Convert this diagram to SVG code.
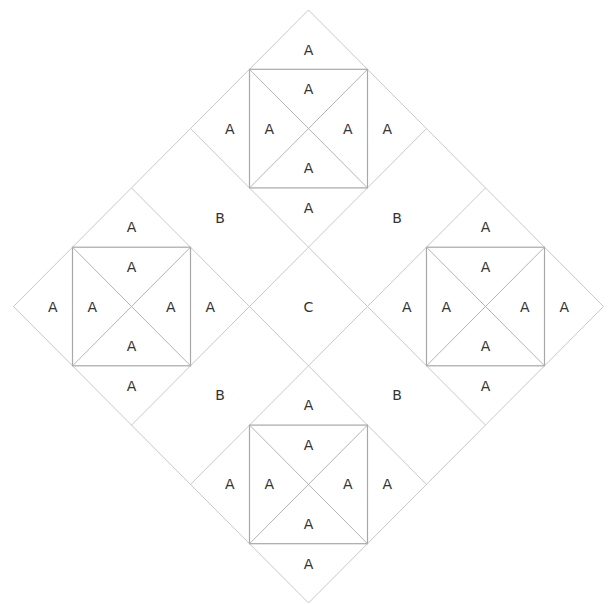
<svg xmlns="http://www.w3.org/2000/svg" width="611" height="604" viewBox="0 0 611 604">
<style>
.bg{fill:#ffffff}
.outer{fill:none;stroke:#c8c8c8;stroke-width:1}
.sq{fill:none;stroke:#a8a8a8;stroke-width:1.2}
.dg{fill:none;stroke:#b4b4b4;stroke-width:1}
text{font-family:"DejaVu Sans","Liberation Sans",sans-serif;font-size:14px;fill:#333;text-anchor:middle}
</style>
<rect class="bg" x="0" y="0" width="611" height="604"/>
<g id="connectors">
<polygon class="outer" points="308.5,10 603.5,306.5 308.5,603 13.5,306.5"/>
<line class="outer" x1="426.5" y1="128.6" x2="131.5" y2="425.1"/>
<line class="outer" x1="485.5" y1="187.9" x2="190.5" y2="484.4"/>
<line class="outer" x1="190.5" y1="128.6" x2="485.5" y2="425.1"/>
<line class="outer" x1="131.5" y1="187.9" x2="426.5" y2="484.4"/>
</g>
<g id="block-top">
<rect class="sq" x="249.5" y="69.3" width="118" height="118.6"/>
<line class="dg" x1="249.5" y1="69.3" x2="367.5" y2="187.9"/>
<line class="dg" x1="367.5" y1="69.3" x2="249.5" y2="187.9"/>
<text x="308.5" y="54.5">A</text>
<text x="308.5" y="94.1">A</text>
<text x="269.2" y="133.6">A</text>
<text x="347.8" y="133.6">A</text>
<text x="229.8" y="133.6">A</text>
<text x="387.2" y="133.6">A</text>
<text x="308.5" y="173.1">A</text>
<text x="308.5" y="212.7">A</text>
</g>
<g id="block-left">
<rect class="sq" x="72.5" y="247.2" width="118" height="118.6"/>
<line class="dg" x1="72.5" y1="247.2" x2="190.5" y2="365.8"/>
<line class="dg" x1="190.5" y1="247.2" x2="72.5" y2="365.8"/>
<text x="131.5" y="232.4">A</text>
<text x="131.5" y="272">A</text>
<text x="92.2" y="311.5">A</text>
<text x="170.8" y="311.5">A</text>
<text x="52.8" y="311.5">A</text>
<text x="210.2" y="311.5">A</text>
<text x="131.5" y="351">A</text>
<text x="131.5" y="390.6">A</text>
</g>
<g id="block-right">
<rect class="sq" x="426.5" y="247.2" width="118" height="118.6"/>
<line class="dg" x1="426.5" y1="247.2" x2="544.5" y2="365.8"/>
<line class="dg" x1="544.5" y1="247.2" x2="426.5" y2="365.8"/>
<text x="485.5" y="232.4">A</text>
<text x="485.5" y="272">A</text>
<text x="446.2" y="311.5">A</text>
<text x="524.8" y="311.5">A</text>
<text x="406.8" y="311.5">A</text>
<text x="564.2" y="311.5">A</text>
<text x="485.5" y="351">A</text>
<text x="485.5" y="390.6">A</text>
</g>
<g id="block-bottom">
<rect class="sq" x="249.5" y="425.1" width="118" height="118.6"/>
<line class="dg" x1="249.5" y1="425.1" x2="367.5" y2="543.7"/>
<line class="dg" x1="367.5" y1="425.1" x2="249.5" y2="543.7"/>
<text x="308.5" y="410.3">A</text>
<text x="308.5" y="449.9">A</text>
<text x="269.2" y="489.4">A</text>
<text x="347.8" y="489.4">A</text>
<text x="229.8" y="489.4">A</text>
<text x="387.2" y="489.4">A</text>
<text x="308.5" y="528.9">A</text>
<text x="308.5" y="568.5">A</text>
</g>
<g id="b-upper-left"><text x="220" y="222.5">B</text></g>
<g id="b-upper-right"><text x="397" y="222.5">B</text></g>
<g id="b-lower-left"><text x="220" y="400.4">B</text></g>
<g id="b-lower-right"><text x="397" y="400.4">B</text></g>
<g id="c-center"><text x="308.5" y="311.5">C</text></g>
</svg>
